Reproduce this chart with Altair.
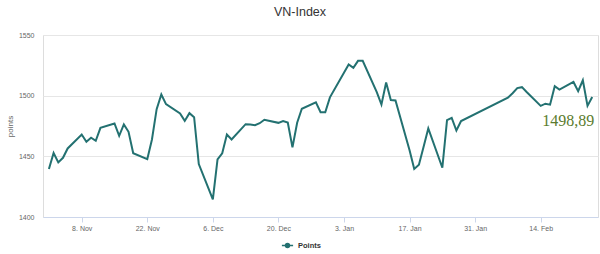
import altair as alt
import pandas as pd

# ---------------- data ----------------
dates = [
    "2021-11-01", "2021-11-02", "2021-11-03", "2021-11-04", "2021-11-05",
    "2021-11-08", "2021-11-09", "2021-11-10", "2021-11-11", "2021-11-12",
    "2021-11-15", "2021-11-16", "2021-11-17", "2021-11-18", "2021-11-19",
    "2021-11-22", "2021-11-23", "2021-11-24", "2021-11-25", "2021-11-26",
    "2021-11-29", "2021-11-30", "2021-12-01", "2021-12-02", "2021-12-03",
    "2021-12-06", "2021-12-07", "2021-12-08", "2021-12-09", "2021-12-10",
    "2021-12-13", "2021-12-14", "2021-12-15", "2021-12-16", "2021-12-17",
    "2021-12-20", "2021-12-21", "2021-12-22", "2021-12-23", "2021-12-24",
    "2021-12-25", "2021-12-28", "2021-12-29", "2021-12-30", "2021-12-31",
    "2022-01-04", "2022-01-05", "2022-01-06", "2022-01-07",
    "2022-01-10", "2022-01-11", "2022-01-12", "2022-01-13", "2022-01-14",
    "2022-01-17", "2022-01-18", "2022-01-19", "2022-01-20", "2022-01-21",
    "2022-01-24", "2022-01-25", "2022-01-26", "2022-01-27", "2022-01-28",
    "2022-02-07", "2022-02-08", "2022-02-09", "2022-02-10", "2022-02-11",
    "2022-02-14", "2022-02-15", "2022-02-16", "2022-02-17", "2022-02-18",
    "2022-02-21", "2022-02-22", "2022-02-23", "2022-02-24", "2022-02-25",
]
values = [
    1439.5, 1452.7, 1445.0, 1448.8, 1456.5,
    1468.0, 1462.0, 1465.3, 1462.8, 1473.5,
    1477.1, 1466.9, 1476.3, 1470.2, 1452.6,
    1447.7, 1463.9, 1488.9, 1501.0, 1493.0,
    1485.3, 1479.2, 1485.6, 1482.3, 1443.6,
    1414.5, 1447.4, 1452.5, 1468.0, 1463.9,
    1476.5, 1476.2, 1475.7, 1477.3, 1480.1,
    1477.6, 1479.1, 1477.9, 1457.4, 1477.7,
    1489.2, 1494.5, 1486.3, 1486.3, 1498.6,
    1525.7, 1522.9, 1528.7, 1528.7,
    1503.0, 1492.7, 1510.8, 1496.4, 1496.1,
    1455.0, 1439.6, 1443.0, 1458.0, 1473.0,
    1440.6, 1479.8, 1481.7, 1471.3, 1479.1,
    1498.3, 1502.0, 1506.2, 1507.0, 1503.0,
    1491.6, 1493.4, 1492.6, 1507.8, 1505.0,
    1511.3, 1503.7, 1512.7, 1491.6, 1498.89,
]
series_name = "Points"
chart_title = "VN-Index"
y_title = "points"
y_ticks = [1400, 1425, 1450, 1475, 1500, 1525, 1550]
x_tick_dates = ["2021-11-08", "2021-11-22", "2021-12-06", "2021-12-20",
                "2022-01-03", "2022-01-17", "2022-01-31", "2022-02-14"]

# ---------------- styles ----------------
LINE_COLOR = "#237171"
LABEL_COLOR = "#5b7c2e"
FONT = "Liberation Sans"

df = pd.DataFrame({"date": dates, "value": values, "series": series_name})
last = df.tail(1).copy()
last["label"] = [f"{values[-1]:.2f}".replace(".", ",")]


def dt(s, hours=0, minutes=0):
    t = pd.Timestamp(s)
    return alt.DateTime(year=t.year, month=t.month, date=t.day,
                        hours=hours, minutes=minutes, utc=True)


x_domain = [dt("2021-10-30", 17, 40), dt("2022-02-26", 5, 40)]
x_vals = [dt(s) for s in x_tick_dates]

x_enc = alt.X(
    "date:T",
    scale=alt.Scale(type="utc", domain=x_domain),
    axis=alt.Axis(
        values=x_vals,
        labelExpr="utcFormat(datum.value, '%-d. %b')",
        grid=False,
        domainColor="#ccd6eb",
        tickColor="#ccd6eb",
        tickSize=5,
        labelPadding=2,
        labelFontSize=7,
        labelColor="#666666",
        labelFont=FONT,
        title=None,
    ),
)
y_enc = alt.Y(
    "value:Q",
    scale=alt.Scale(domain=[1400, 1550], nice=False, zero=False),
    axis=alt.Axis(
        values=y_ticks,
        format="d",
        grid=True,
        gridColor="#e6e6e6",
        domain=False,
        ticks=False,
        labelPadding=9,
        labelFontSize=7,
        labelColor="#666666",
        labelFont=FONT,
        title=y_title,
        titleFontSize=8,
        titleFontWeight="normal",
        titleColor="#666666",
        titleFont=FONT,
        titleAngle=270,
        titleX=-32.5,
        titleY=91,
        titleAlign="center",
        titleBaseline="middle",
    ),
)

line = alt.Chart(df).mark_line(strokeWidth=2).encode(
    x=x_enc,
    y=y_enc,
    color=alt.Color(
        "series:N",
        scale=alt.Scale(range=[LINE_COLOR]),
        legend=alt.Legend(
            orient="none",
            legendX=240,
            legendY=206,
            title=None,
            padding=0,
            symbolType="M-1.6,0L1.6,0M-0.55,0A0.55,0.55,0,1,0,0.55,0A0.55,0.55,0,1,0,-0.55,0",
            symbolSize=49,
            symbolStrokeWidth=1.6,
            symbolFillColor=LINE_COLOR,
            symbolStrokeColor=LINE_COLOR,
            labelFont=FONT,
            labelFontSize=7.5,
            labelFontWeight="bold",
            labelColor="#333333",
            labelOffset=6,
        ),
    ),
)

label = alt.Chart(last).mark_text(
    align="right", baseline="alphabetic", dx=2, dy=29,
    font="Liberation Serif", fontSize=16, color=LABEL_COLOR,
).encode(x="date:T", y="value:Q", text="label:N")

chart = alt.layer(line, label).properties(
    width=555,
    height=182,
    padding={"left": 43, "top": 35, "right": 2, "bottom": 37},
    autosize=alt.AutoSizeParams(type="none"),
    title=alt.TitleParams(
        chart_title, fontSize=12.5, font=FONT, fontWeight="normal",
        color="#333333", anchor="middle", dx=-20.5, offset=13,
    ),
).configure_view(stroke=None).configure(background="white")

chart.save("out.html", embed_options={"renderer": "svg", "actions": False})
